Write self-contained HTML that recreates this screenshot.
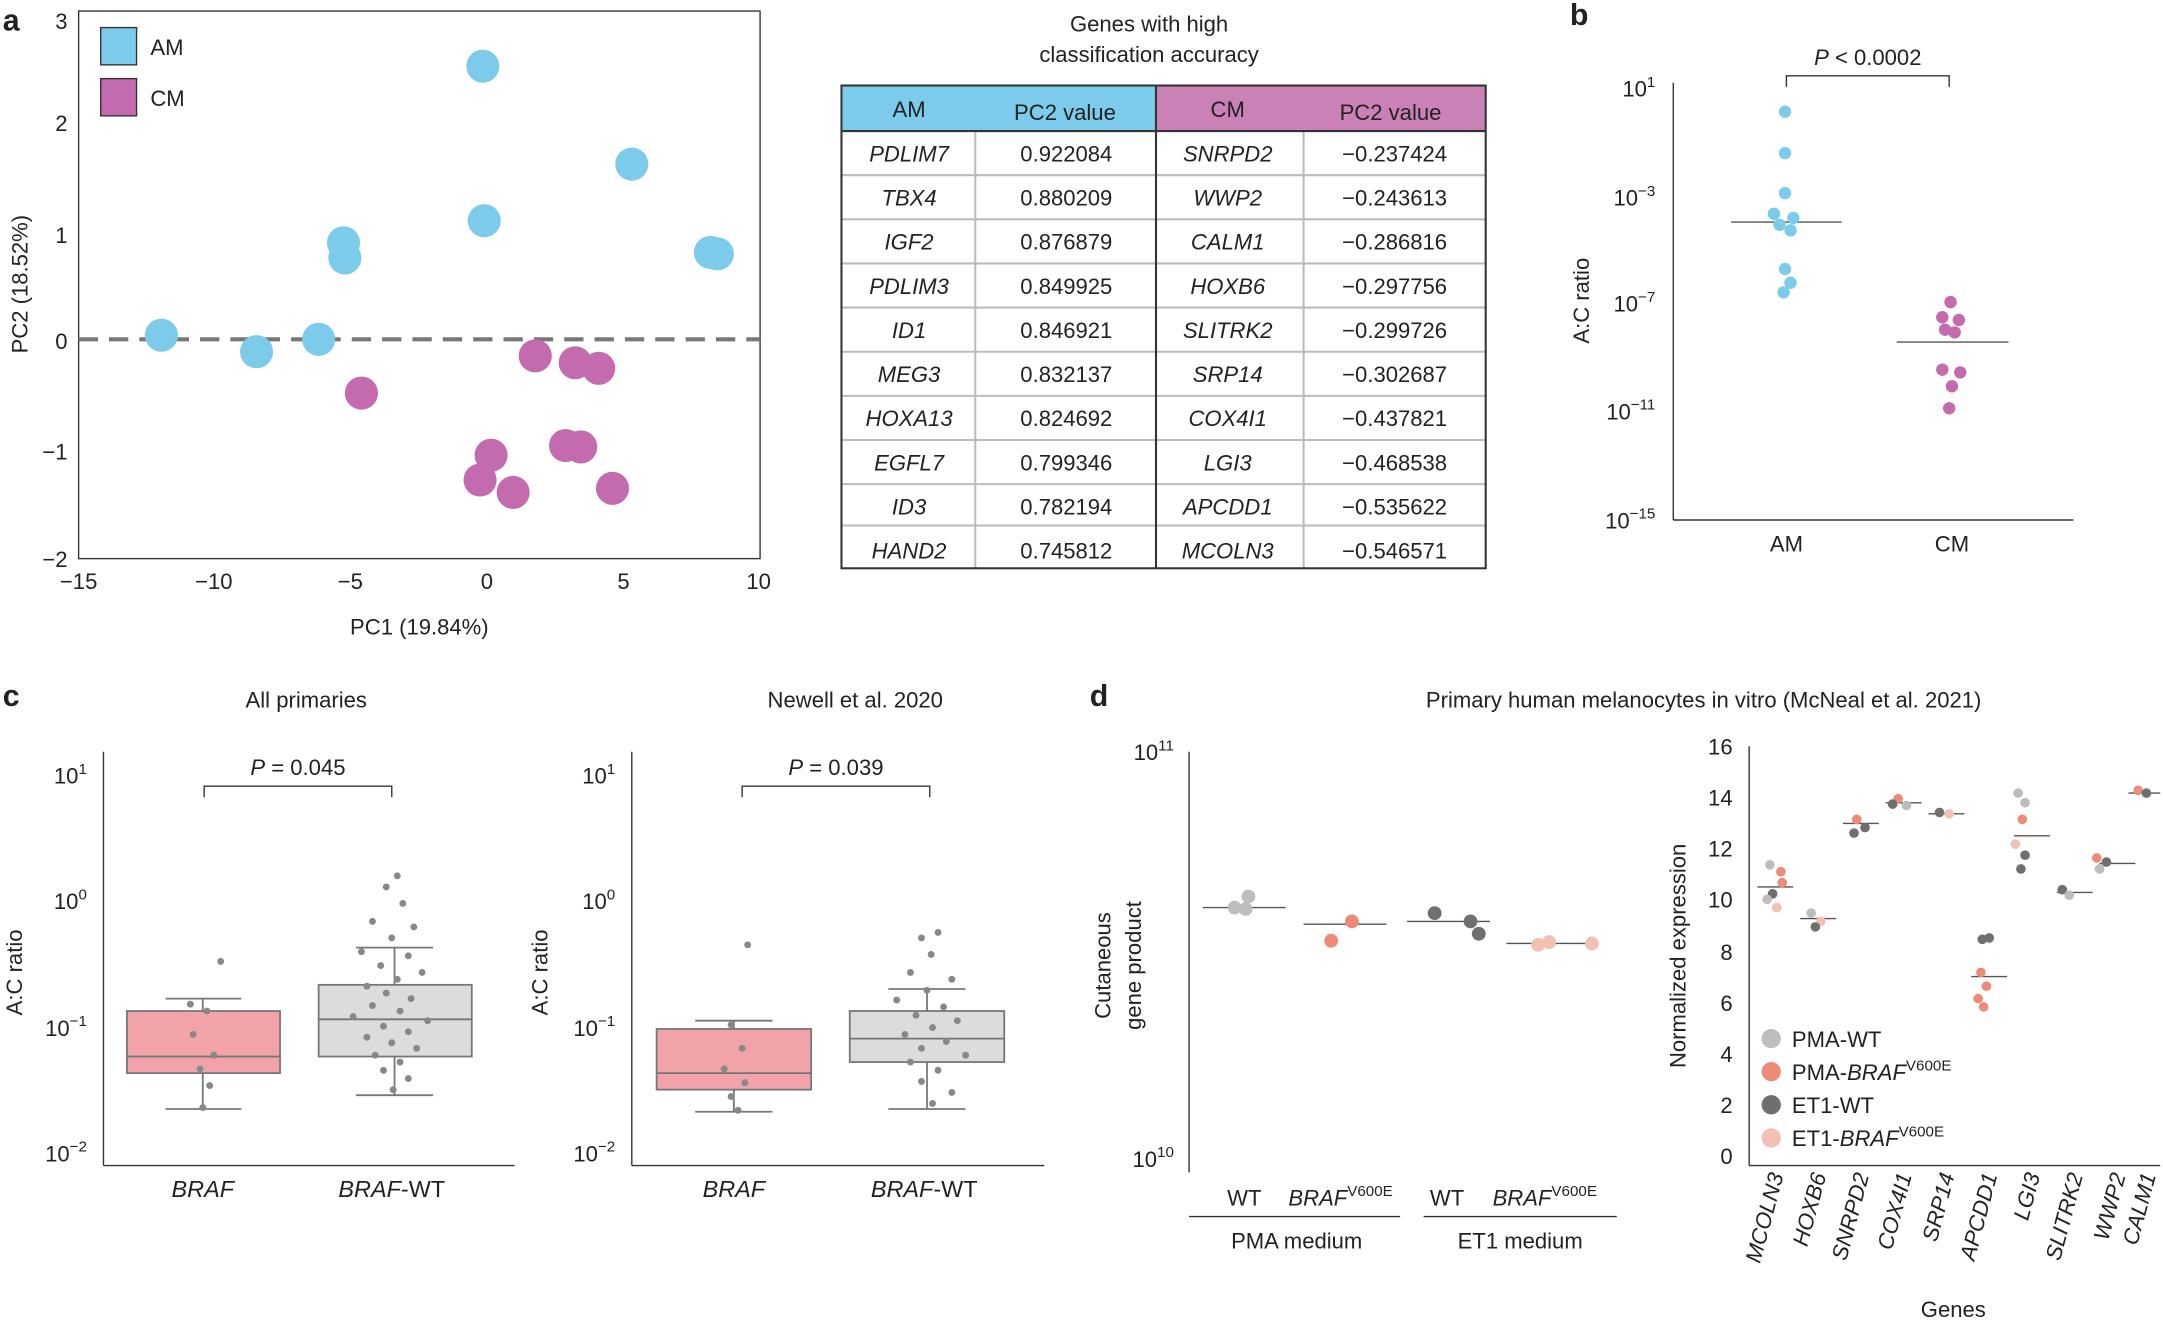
<!DOCTYPE html>
<html><head><meta charset="utf-8"><style>
html,body{margin:0;padding:0;background:#fff}
svg{display:block}
text{font-family:"Liberation Sans",Arial,sans-serif;fill:#222}
.i{font-style:italic}
</style></head><body>
<svg width="2163" height="1320" viewBox="0 0 1568 957" preserveAspectRatio="none" xmlns="http://www.w3.org/2000/svg">
<g font-size="16">
<!-- panel a -->
<text x="2" y="22" font-size="22" font-weight="bold">a</text>
<rect x="57" y="8" width="494" height="397" fill="none" stroke="#333" stroke-width="1"/>
<line x1="57" y1="246" x2="551" y2="246" stroke="#777" stroke-width="3" stroke-dasharray="14,8"/>
<g text-anchor="end">
<text x="49" y="21">3</text><text x="49" y="95">2</text><text x="49" y="176">1</text><text x="49" y="253">0</text><text x="49" y="333">−1</text><text x="49" y="411">−2</text>
</g>
<g text-anchor="middle">
<text x="57" y="427">−15</text><text x="155" y="427">−10</text><text x="254" y="427">−5</text><text x="353" y="427">0</text><text x="452" y="427">5</text><text x="550" y="427">10</text>
<text x="304" y="460">PC1 (19.84%)</text>
</g>
<text transform="translate(20,206) rotate(-90)" text-anchor="middle">PC2 (18.52%)</text>
<g fill="#7ccbea">
<circle cx="350" cy="48" r="12"/><circle cx="458" cy="119" r="12"/><circle cx="351" cy="160" r="12"/><circle cx="249" cy="176" r="12"/><circle cx="250" cy="187" r="12"/><circle cx="515" cy="183" r="12"/><circle cx="520" cy="184" r="12"/><circle cx="117" cy="243" r="12"/><circle cx="186" cy="255" r="12"/><circle cx="231" cy="246" r="12"/>
</g>
<g fill="#c46aae">
<circle cx="262" cy="285" r="12"/><circle cx="388" cy="258" r="12"/><circle cx="417" cy="263" r="12"/><circle cx="434" cy="267" r="12"/><circle cx="356" cy="330" r="12"/><circle cx="348" cy="348" r="12"/><circle cx="372" cy="357" r="12"/><circle cx="410" cy="323" r="12"/><circle cx="421" cy="324" r="12"/><circle cx="444" cy="354" r="12"/>
</g>
<rect x="73" y="20" width="26" height="27" fill="#7ccbea" stroke="#333"/><text x="109" y="40">AM</text>
<rect x="73" y="57" width="26" height="27" fill="#c46aae" stroke="#333"/><text x="109" y="77">CM</text>
<!-- table -->
<g text-anchor="middle">
<text x="833" y="23">Genes with high</text><text x="833" y="45">classification accuracy</text>
</g>
<rect x="610" y="62" width="228" height="33" fill="#7ccbea"/>
<rect x="838" y="62" width="239" height="33" fill="#c981b6"/>
<g stroke="#bbb" stroke-width="1.5">
<line x1="610" y1="127" x2="1077" y2="127"/><line x1="610" y1="159" x2="1077" y2="159"/><line x1="610" y1="191" x2="1077" y2="191"/><line x1="610" y1="223" x2="1077" y2="223"/><line x1="610" y1="255" x2="1077" y2="255"/><line x1="610" y1="287" x2="1077" y2="287"/><line x1="610" y1="319" x2="1077" y2="319"/><line x1="610" y1="351" x2="1077" y2="351"/><line x1="610" y1="381" x2="1077" y2="381"/>
<line x1="707" y1="95" x2="707" y2="412"/><line x1="945" y1="95" x2="945" y2="412"/>
</g>
<rect x="610" y="62" width="467" height="350" fill="none" stroke="#333" stroke-width="1.5"/>
<line x1="838" y1="62" x2="838" y2="412" stroke="#333" stroke-width="1.5"/>
<line x1="610" y1="95" x2="1077" y2="95" stroke="#333" stroke-width="1.5"/>
<g text-anchor="middle">
<text x="659" y="85">AM</text><text x="772" y="87">PC2 value</text><text x="890" y="85">CM</text><text x="1008" y="87">PC2 value</text>
<g class="i">
<text x="659" y="117" class="i">PDLIM7</text><text x="659" y="149" class="i">TBX4</text><text x="659" y="181" class="i">IGF2</text><text x="659" y="213" class="i">PDLIM3</text><text x="659" y="245" class="i">ID1</text><text x="659" y="277" class="i">MEG3</text><text x="659" y="309" class="i">HOXA13</text><text x="659" y="341" class="i">EGFL7</text><text x="659" y="373" class="i">ID3</text><text x="659" y="405" class="i">HAND2</text>
<text x="890" y="117" class="i">SNRPD2</text><text x="890" y="149" class="i">WWP2</text><text x="890" y="181" class="i">CALM1</text><text x="890" y="213" class="i">HOXB6</text><text x="890" y="245" class="i">SLITRK2</text><text x="890" y="277" class="i">SRP14</text><text x="890" y="309" class="i">COX4I1</text><text x="890" y="341" class="i">LGI3</text><text x="890" y="373" class="i">APCDD1</text><text x="890" y="405" class="i">MCOLN3</text>
</g>
<text x="773" y="117">0.922084</text><text x="773" y="149">0.880209</text><text x="773" y="181">0.876879</text><text x="773" y="213">0.849925</text><text x="773" y="245">0.846921</text><text x="773" y="277">0.832137</text><text x="773" y="309">0.824692</text><text x="773" y="341">0.799346</text><text x="773" y="373">0.782194</text><text x="773" y="405">0.745812</text>
<text x="1011" y="117">−0.237424</text><text x="1011" y="149">−0.243613</text><text x="1011" y="181">−0.286816</text><text x="1011" y="213">−0.297756</text><text x="1011" y="245">−0.299726</text><text x="1011" y="277">−0.302687</text><text x="1011" y="309">−0.437821</text><text x="1011" y="341">−0.468538</text><text x="1011" y="373">−0.535622</text><text x="1011" y="405">−0.546571</text>
</g>
<!-- panel b -->
<text x="1138" y="18" font-size="22" font-weight="bold">b</text>
<line x1="1213" y1="60" x2="1213" y2="377" stroke="#333"/>
<line x1="1213" y1="377" x2="1503" y2="377" stroke="#333"/>
<g text-anchor="end">
<text x="1200" y="70">10<tspan font-size="11" dy="-7">1</tspan></text>
<text x="1200" y="149">10<tspan font-size="11" dy="-7">−3</tspan></text>
<text x="1200" y="226">10<tspan font-size="11" dy="-7">−7</tspan></text>
<text x="1200" y="304">10<tspan font-size="11" dy="-7">−11</tspan></text>
<text x="1200" y="383">10<tspan font-size="11" dy="-7">−15</tspan></text>
</g>
<text transform="translate(1152,218) rotate(-90)" text-anchor="middle">A:C ratio</text>
<text x="1295" y="400" text-anchor="middle">AM</text><text x="1415" y="400" text-anchor="middle">CM</text>
<path d="M1295 63 V55 H1413 V63" fill="none" stroke="#333"/>
<text x="1354" y="47" text-anchor="middle"><tspan class="i">P</tspan> &lt; 0.0002</text>
<line x1="1255" y1="161" x2="1335" y2="161" stroke="#555"/>
<line x1="1375" y1="248" x2="1456" y2="248" stroke="#555"/>
<g fill="#7ccbea">
<circle cx="1294" cy="81" r="4.5"/><circle cx="1294" cy="111" r="4.5"/><circle cx="1294" cy="140" r="4.5"/><circle cx="1286" cy="155" r="4.5"/><circle cx="1300" cy="158" r="4.5"/><circle cx="1290" cy="163" r="4.5"/><circle cx="1298" cy="167" r="4.5"/><circle cx="1294" cy="195" r="4.5"/><circle cx="1298" cy="205" r="4.5"/><circle cx="1293" cy="212" r="4.5"/>
</g>
<g fill="#c46aae">
<circle cx="1414" cy="219" r="4.5"/><circle cx="1408" cy="230" r="4.5"/><circle cx="1420" cy="232" r="4.5"/><circle cx="1410" cy="239" r="4.5"/><circle cx="1417" cy="241" r="4.5"/><circle cx="1408" cy="268" r="4.5"/><circle cx="1421" cy="270" r="4.5"/><circle cx="1415" cy="280" r="4.5"/><circle cx="1413" cy="296" r="4.5"/>
</g>
<!-- panel c -->
<text x="2" y="512" font-size="22" font-weight="bold">c</text>
<text x="222" y="513" text-anchor="middle">All primaries</text>
<text x="620" y="513" text-anchor="middle">Newell et al. 2020</text>
<g>
<line x1="75" y1="545" x2="75" y2="845" stroke="#333"/><line x1="75" y1="845" x2="373" y2="845" stroke="#333"/>
<line x1="458" y1="545" x2="458" y2="845" stroke="#333"/><line x1="458" y1="845" x2="757" y2="845" stroke="#333"/>
<g text-anchor="end">
<text x="63" y="568">10<tspan font-size="11" dy="-7">1</tspan></text><text x="63" y="659">10<tspan font-size="11" dy="-7">0</tspan></text><text x="63" y="751">10<tspan font-size="11" dy="-7">−1</tspan></text><text x="63" y="842">10<tspan font-size="11" dy="-7">−2</tspan></text>
<text x="446" y="568">10<tspan font-size="11" dy="-7">1</tspan></text><text x="446" y="659">10<tspan font-size="11" dy="-7">0</tspan></text><text x="446" y="751">10<tspan font-size="11" dy="-7">−1</tspan></text><text x="446" y="842">10<tspan font-size="11" dy="-7">−2</tspan></text>
</g>
<text transform="translate(16,705) rotate(-90)" text-anchor="middle">A:C ratio</text>
<text transform="translate(397,705) rotate(-90)" text-anchor="middle">A:C ratio</text>
<g text-anchor="middle" font-size="17">
<text x="147" y="868" class="i">BRAF</text><text x="284" y="868"><tspan class="i">BRAF</tspan>-WT</text>
<text x="532" y="868" class="i">BRAF</text><text x="670" y="868"><tspan class="i">BRAF</tspan>-WT</text>
</g>
<path d="M148 578 V570 H284 V578" fill="none" stroke="#333"/><text x="216" y="562" text-anchor="middle"><tspan class="i">P</tspan> = 0.045</text>
<path d="M538 578 V570 H674 V578" fill="none" stroke="#333"/><text x="606" y="562" text-anchor="middle"><tspan class="i">P</tspan> = 0.039</text>
<g stroke="#777" stroke-width="1.3">
<line x1="147" y1="724" x2="147" y2="804"/><line x1="120" y1="724" x2="175" y2="724"/><line x1="120" y1="804" x2="175" y2="804"/>
<rect x="92" y="733" width="111" height="45" fill="#f2a3aa"/><line x1="92" y1="766" x2="203" y2="766"/>
<line x1="286" y1="687" x2="286" y2="794"/><line x1="258" y1="687" x2="314" y2="687"/><line x1="258" y1="794" x2="314" y2="794"/>
<rect x="231" y="714" width="111" height="52" fill="#dcdcde"/><line x1="231" y1="739" x2="342" y2="739"/>
<line x1="532" y1="740" x2="532" y2="806"/><line x1="504" y1="740" x2="560" y2="740"/><line x1="504" y1="806" x2="560" y2="806"/>
<rect x="476" y="746" width="112" height="44" fill="#f2a3aa"/><line x1="476" y1="778" x2="588" y2="778"/>
<line x1="672" y1="717" x2="672" y2="804"/><line x1="644" y1="717" x2="700" y2="717"/><line x1="644" y1="804" x2="700" y2="804"/>
<rect x="616" y="733" width="112" height="37" fill="#dcdcde"/><line x1="616" y1="753" x2="728" y2="753"/>
</g>
<g fill="#888">
<circle cx="160" cy="697" r="2.5"/><circle cx="150" cy="733" r="2.5"/><circle cx="140" cy="750" r="2.5"/><circle cx="155" cy="765" r="2.5"/><circle cx="145" cy="775" r="2.5"/><circle cx="152" cy="787" r="2.5"/><circle cx="147" cy="803" r="2.5"/><circle cx="138" cy="728" r="2.5"/>
<circle cx="288" cy="635" r="2.5"/><circle cx="280" cy="643" r="2.5"/><circle cx="292" cy="655" r="2.5"/><circle cx="270" cy="668" r="2.5"/><circle cx="300" cy="672" r="2.5"/><circle cx="284" cy="680" r="2.5"/><circle cx="262" cy="690" r="2.5"/><circle cx="296" cy="693" r="2.5"/><circle cx="276" cy="700" r="2.5"/><circle cx="306" cy="705" r="2.5"/><circle cx="288" cy="710" r="2.5"/><circle cx="266" cy="715" r="2.5"/><circle cx="280" cy="720" r="2.5"/><circle cx="298" cy="724" r="2.5"/><circle cx="270" cy="729" r="2.5"/><circle cx="290" cy="733" r="2.5"/><circle cx="256" cy="737" r="2.5"/><circle cx="310" cy="740" r="2.5"/><circle cx="278" cy="744" r="2.5"/><circle cx="296" cy="748" r="2.5"/><circle cx="266" cy="752" r="2.5"/><circle cx="284" cy="756" r="2.5"/><circle cx="302" cy="760" r="2.5"/><circle cx="272" cy="765" r="2.5"/><circle cx="290" cy="770" r="2.5"/><circle cx="278" cy="776" r="2.5"/><circle cx="296" cy="782" r="2.5"/><circle cx="285" cy="790" r="2.5"/>
<circle cx="542" cy="685" r="2.5"/><circle cx="530" cy="743" r="2.5"/><circle cx="538" cy="760" r="2.5"/><circle cx="525" cy="775" r="2.5"/><circle cx="540" cy="785" r="2.5"/><circle cx="530" cy="795" r="2.5"/><circle cx="535" cy="805" r="2.5"/>
<circle cx="680" cy="676" r="2.5"/><circle cx="668" cy="680" r="2.5"/><circle cx="675" cy="692" r="2.5"/><circle cx="660" cy="705" r="2.5"/><circle cx="690" cy="710" r="2.5"/><circle cx="672" cy="718" r="2.5"/><circle cx="650" cy="725" r="2.5"/><circle cx="684" cy="730" r="2.5"/><circle cx="664" cy="736" r="2.5"/><circle cx="694" cy="740" r="2.5"/><circle cx="676" cy="745" r="2.5"/><circle cx="656" cy="750" r="2.5"/><circle cx="686" cy="755" r="2.5"/><circle cx="668" cy="760" r="2.5"/><circle cx="700" cy="765" r="2.5"/><circle cx="660" cy="770" r="2.5"/><circle cx="680" cy="776" r="2.5"/><circle cx="668" cy="784" r="2.5"/><circle cx="690" cy="792" r="2.5"/><circle cx="676" cy="800" r="2.5"/>
</g>
</g>
<!-- panel d -->
<text x="790" y="512" font-size="22" font-weight="bold">d</text>
<text x="1235" y="513" text-anchor="middle">Primary human melanocytes in vitro (McNeal et al. 2021)</text>
<line x1="862" y1="545" x2="862" y2="850" stroke="#333"/>
<text x="851" y="551" text-anchor="end">10<tspan font-size="11" dy="-7">11</tspan></text>
<text x="851" y="846" text-anchor="end">10<tspan font-size="11" dy="-7">10</tspan></text>
<text transform="translate(805,700) rotate(-90)" text-anchor="middle">Cutaneous</text>
<text transform="translate(827,700) rotate(-90)" text-anchor="middle">gene product</text>
<line x1="872" y1="658" x2="932" y2="658" stroke="#555"/><line x1="945" y1="670" x2="1005" y2="670" stroke="#555"/>
<line x1="1020" y1="668" x2="1080" y2="668" stroke="#555"/><line x1="1092" y1="684" x2="1158" y2="684" stroke="#555"/>
<circle cx="895" cy="658" r="5" fill="#bdbdbd"/><circle cx="905" cy="650" r="5" fill="#bdbdbd"/><circle cx="903" cy="659" r="5" fill="#bdbdbd"/>
<circle cx="965" cy="682" r="5" fill="#ee8b78"/><circle cx="980" cy="668" r="5" fill="#ee8b78"/>
<circle cx="1040" cy="662" r="5" fill="#6f6f6f"/><circle cx="1066" cy="668" r="5" fill="#6f6f6f"/><circle cx="1072" cy="677" r="5" fill="#6f6f6f"/>
<circle cx="1115" cy="685" r="5" fill="#f4c0b4"/><circle cx="1123" cy="683" r="5" fill="#f4c0b4"/><circle cx="1154" cy="684" r="5" fill="#f4c0b4"/>
<text x="902" y="874" text-anchor="middle">WT</text><text x="934" y="874"><tspan class="i">BRAF</tspan><tspan font-size="11" dy="-7">V600E</tspan></text>
<text x="1049" y="874" text-anchor="middle">WT</text><text x="1082" y="874"><tspan class="i">BRAF</tspan><tspan font-size="11" dy="-7">V600E</tspan></text>
<line x1="862" y1="882" x2="1015" y2="882" stroke="#333"/><line x1="1032" y1="882" x2="1172" y2="882" stroke="#333"/>
<text x="940" y="905" text-anchor="middle">PMA medium</text><text x="1102" y="905" text-anchor="middle">ET1 medium</text>
<!-- right -->
<line x1="1268" y1="541" x2="1268" y2="845" stroke="#333"/><line x1="1268" y1="845" x2="1566" y2="845" stroke="#333"/>
<g text-anchor="end">
<text x="1256" y="547">16</text><text x="1256" y="584">14</text><text x="1256" y="621">12</text><text x="1256" y="658">10</text><text x="1256" y="696">8</text><text x="1256" y="733">6</text><text x="1256" y="770">4</text><text x="1256" y="807">2</text><text x="1256" y="844">0</text>
</g>
<text transform="translate(1222,693) rotate(-90)" text-anchor="middle">Normalized expression</text>
<g class="i" text-anchor="end" font-size="16">
<text transform="translate(1293,852) rotate(-75)" class="i">MCOLN3</text>
<text transform="translate(1324,852) rotate(-75)" class="i">HOXB6</text>
<text transform="translate(1355,852) rotate(-75)" class="i">SNRPD2</text>
<text transform="translate(1386,852) rotate(-75)" class="i">COX4I1</text>
<text transform="translate(1417,852) rotate(-75)" class="i">SRP14</text>
<text transform="translate(1448,852) rotate(-75)" class="i">APCDD1</text>
<text transform="translate(1479,852) rotate(-75)" class="i">LGI3</text>
<text transform="translate(1510,852) rotate(-75)" class="i">SLITRK2</text>
<text transform="translate(1541,852) rotate(-75)" class="i">WWP2</text>
<text transform="translate(1563,852) rotate(-75)" class="i">CALM1</text>
</g>
<text x="1416" y="955" text-anchor="middle">Genes</text>
<g stroke="#555">
<line x1="1274" y1="643" x2="1300" y2="643"/><line x1="1305" y1="666" x2="1331" y2="666"/><line x1="1336" y1="597" x2="1362" y2="597"/><line x1="1367" y1="582" x2="1393" y2="582"/><line x1="1398" y1="590" x2="1424" y2="590"/><line x1="1429" y1="708" x2="1455" y2="708"/><line x1="1460" y1="606" x2="1486" y2="606"/><line x1="1491" y1="647" x2="1517" y2="647"/><line x1="1522" y1="626" x2="1548" y2="626"/><line x1="1543" y1="575" x2="1566" y2="575"/>
</g>
<g>
<circle cx="1283" cy="627" r="3.5" fill="#bdbdbd"/><circle cx="1291" cy="632" r="3.5" fill="#ee8b78"/><circle cx="1285" cy="648" r="3.5" fill="#6f6f6f"/><circle cx="1292" cy="640" r="3.5" fill="#ee8b78"/><circle cx="1288" cy="658" r="3.5" fill="#f4c0b4"/><circle cx="1281" cy="652" r="3.5" fill="#bdbdbd"/>
<circle cx="1313" cy="662" r="3.5" fill="#bdbdbd"/><circle cx="1320" cy="668" r="3.5" fill="#f4c0b4"/><circle cx="1316" cy="672" r="3.5" fill="#6f6f6f"/>
<circle cx="1346" cy="594" r="3.5" fill="#ee8b78"/><circle cx="1352" cy="600" r="3.5" fill="#6f6f6f"/><circle cx="1344" cy="604" r="3.5" fill="#6f6f6f"/>
<circle cx="1376" cy="579" r="3.5" fill="#ee8b78"/><circle cx="1382" cy="584" r="3.5" fill="#bdbdbd"/><circle cx="1372" cy="583" r="3.5" fill="#6f6f6f"/>
<circle cx="1406" cy="589" r="3.5" fill="#6f6f6f"/><circle cx="1413" cy="590" r="3.5" fill="#f4c0b4"/>
<circle cx="1437" cy="681" r="3.5" fill="#6f6f6f"/><circle cx="1442" cy="680" r="3.5" fill="#6f6f6f"/><circle cx="1436" cy="705" r="3.5" fill="#ee8b78"/><circle cx="1440" cy="715" r="3.5" fill="#ee8b78"/><circle cx="1434" cy="724" r="3.5" fill="#ee8b78"/><circle cx="1438" cy="730" r="3.5" fill="#ee8b78"/>
<circle cx="1463" cy="575" r="3.5" fill="#bdbdbd"/><circle cx="1468" cy="582" r="3.5" fill="#bdbdbd"/><circle cx="1466" cy="594" r="3.5" fill="#ee8b78"/><circle cx="1461" cy="612" r="3.5" fill="#f4c0b4"/><circle cx="1468" cy="620" r="3.5" fill="#6f6f6f"/><circle cx="1465" cy="630" r="3.5" fill="#6f6f6f"/>
<circle cx="1495" cy="645" r="3.5" fill="#6f6f6f"/><circle cx="1500" cy="649" r="3.5" fill="#bdbdbd"/>
<circle cx="1520" cy="622" r="3.5" fill="#ee8b78"/><circle cx="1527" cy="625" r="3.5" fill="#6f6f6f"/><circle cx="1522" cy="630" r="3.5" fill="#bdbdbd"/>
<circle cx="1550" cy="573" r="3.5" fill="#ee8b78"/><circle cx="1556" cy="575" r="3.5" fill="#6f6f6f"/>
</g>
<circle cx="1284" cy="753" r="7" fill="#bdbdbd"/><text x="1299" y="759">PMA-WT</text>
<circle cx="1284" cy="777" r="7" fill="#ee8b78"/><text x="1299" y="783">PMA-<tspan class="i">BRAF</tspan><tspan font-size="11" dy="-7">V600E</tspan></text>
<circle cx="1284" cy="801" r="7" fill="#6f6f6f"/><text x="1299" y="807">ET1-WT</text>
<circle cx="1284" cy="825" r="7" fill="#f4c0b4"/><text x="1299" y="831">ET1-<tspan class="i">BRAF</tspan><tspan font-size="11" dy="-7">V600E</tspan></text>
</g>
</svg>
</body></html>
